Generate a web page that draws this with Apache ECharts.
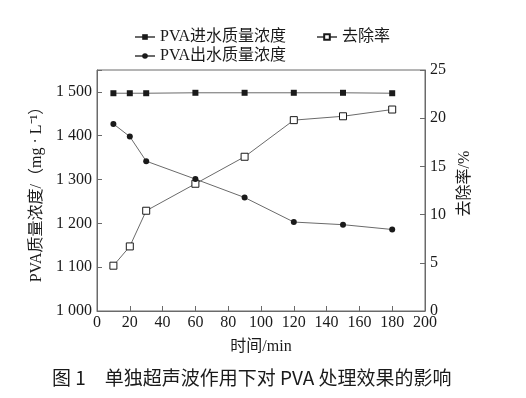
<!DOCTYPE html>
<html>
<head>
<meta charset="utf-8">
<script src="https://cdn.jsdelivr.net/npm/echarts@6/dist/echarts.min.js"></script>
<style>
  html, body { margin: 0; padding: 0; background: #fff; }
  #chart { width: 526px; height: 398px; }
</style>
</head>
<body>
<div id="chart"></div>
<script>
// datos
const tiempos = [10, 20, 30, 60, 90, 120, 150, 180]
const pvaEntrada = [1497, 1497, 1497, 1498, 1498, 1498, 1498, 1497]
const pvaSalida = [1427, 1398, 1342, 1301, 1259, 1203, 1197, 1186]
const remocion = [4.7, 6.7, 10.4, 13.2, 16.0, 19.8, 20.2, 20.9]

const nombres = ['PVA进水质量浓度', '去除率', 'PVA出水质量浓度']
const titulo = '图 1　单独超声波作用下对 PVA 处理效果的影响'

const fuente = '"Liberation Serif", "Noto Sans CJK SC", serif'
const gris = '#6a6a6a'
const negro = '#1a1a1a'

const pares = (xs, ys) => xs.map((x, i) => [x, ys[i]])

const chart = echarts.init(document.getElementById('chart'))

const legendBase = {
  itemWidth: 20,
  itemHeight: 7,
  itemGap: 4,
  textStyle: { fontFamily: fuente, fontSize: 16, color: negro }
}

let option = {
  animation: false,
  textStyle: { fontFamily: fuente },
  legend: [
    { ...legendBase, data: [nombres[0]], left: 129, top: 24 },
    { ...legendBase, data: [nombres[1]], left: 311, top: 24 },
    { ...legendBase, data: [nombres[2]], left: 129, top: 43 }
  ],
  grid: {
    left: 97,
    right: 101,
    top: 70,
    bottom: 87,
    show: true,
    borderColor: gris,
    borderWidth: 1
  },
  xAxis: {
    type: 'value',
    min: 0,
    max: 200,
    interval: 20,
    name: '时间/min',
    nameLocation: 'middle',
    nameGap: 28,
    nameTextStyle: { fontFamily: fuente, fontSize: 16, color: negro },
    axisLine: { lineStyle: { color: gris } },
    axisTick: { inside: true, length: 5, lineStyle: { color: gris } },
    axisLabel: { fontFamily: fuente, fontSize: 16, color: negro, margin: 4 },
    splitLine: { show: false }
  },
  yAxis: [
    {
      type: 'value',
      min: 1000,
      max: 1550,
      interval: 100,
      name: 'PVA质量浓度/（mg · L⁻¹）',
      nameLocation: 'middle',
      nameGap: 47,
      nameTextStyle: { fontFamily: fuente, fontSize: 16, color: negro },
      axisLine: { show: true, lineStyle: { color: gris } },
      axisTick: { inside: true, length: 5, lineStyle: { color: gris } },
      axisLabel: {
        fontFamily: fuente,
        fontSize: 16,
        color: negro,
        margin: 5,
        formatter: v => (v % 100 === 0 ? String(v).replace(/(\d)(\d{3})$/, '$1 $2') : '')
      },
      splitLine: { show: false }
    },
    {
      type: 'value',
      min: 0,
      max: 25,
      interval: 5,
      position: 'right',
      name: '去除率/%',
      nameLocation: 'middle',
      nameRotate: 90,
      nameGap: 32,
      nameTextStyle: { fontFamily: fuente, fontSize: 16, color: negro, padding: [0, 0, 0, 14] },
      axisLine: { show: true, lineStyle: { color: gris } },
      axisTick: { inside: true, length: 5, lineStyle: { color: gris } },
      axisLabel: { fontFamily: fuente, fontSize: 16, color: negro, margin: 5 },
      splitLine: { show: false }
    }
  ],
  series: [
    {
      name: nombres[0],
      type: 'line',
      yAxisIndex: 0,
      data: pares(tiempos, pvaEntrada),
      symbol: 'rect',
      symbolSize: 6,
      lineStyle: { color: gris, width: 1 },
      itemStyle: { color: negro }
    },
    {
      name: nombres[1],
      type: 'line',
      yAxisIndex: 1,
      data: pares(tiempos, remocion),
      symbol: 'rect',
      symbolSize: 7,
      showAllSymbol: true,
      lineStyle: { color: gris, width: 1 },
      itemStyle: { color: '#fff', borderColor: negro, borderWidth: 1 }
    },
    {
      name: nombres[2],
      type: 'line',
      yAxisIndex: 0,
      data: pares(tiempos, pvaSalida),
      symbol: 'circle',
      symbolSize: 6,
      lineStyle: { color: gris, width: 1 },
      itemStyle: { color: negro }
    }
  ],
  graphic: [
    {
      type: 'text',
      left: 52,
      top: 368,
      style: {
        text: titulo,
        fontFamily: '"Noto Sans CJK SC", sans-serif',
        fontSize: 19,
        fill: negro
      }
    }
  ]
}

chart.setOption(option)
</script>
</body>
</html>
